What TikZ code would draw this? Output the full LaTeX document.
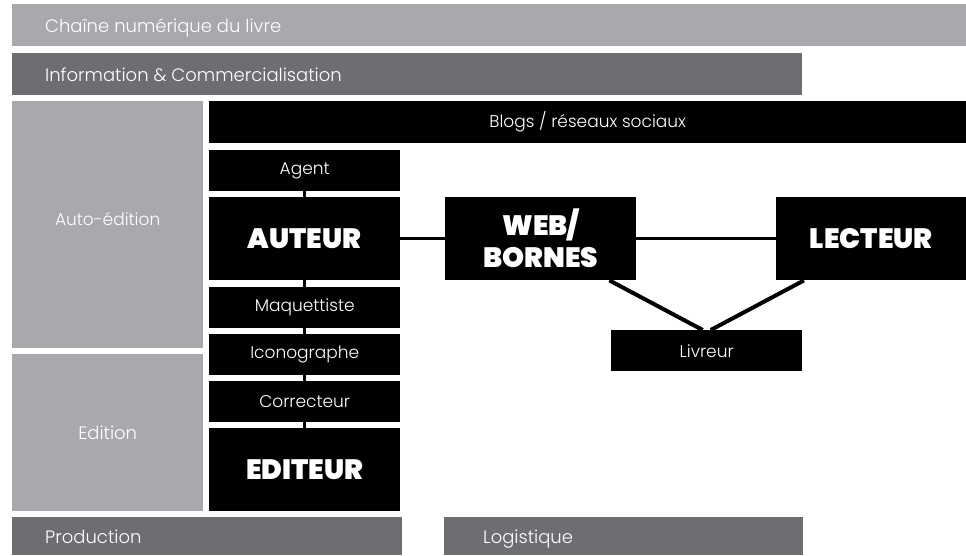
\documentclass[tikz,border=0pt]{standalone}
\usepackage{fontspec}
\setmainfont{Poppins Light}
\newfontfamily\heavyfont{Poppins Black}
\usepackage{tikz}
\usetikzlibrary{calc}
\definecolor{lightgrey}{HTML}{A7A9AC}
\definecolor{darkgrey}{HTML}{6D6E71}

\begin{document}
\begin{tikzpicture}[x=1pt,y=-1pt,
	bar/.style={anchor=north west,inner sep=0pt,minimum height=42pt,text=white,font=\fontsize{18}{20}\selectfont},
	pale/.style={bar,fill=lightgrey},
	dark/.style={bar,fill=darkgrey},
	barlabel/.style={anchor=west,inner sep=0pt,text=white,text height=15pt,text depth=1pt,font=\fontsize{18}{20}\selectfont},
	role/.style={anchor=north west,inner sep=0pt,fill=black,text=white,minimum width=191pt,minimum height=41pt,font=\fontsize{17}{19}\selectfont},
	actor/.style={role,minimum height=83pt,font=\heavyfont\fontsize{28}{32}\selectfont,align=center},
	link/.style={line width=3pt}]
	\useasboundingbox (0,0) rectangle (966,555);
	% bandeaux
	\node[pale,minimum width=954pt] (chaine) at (12,4) {};
	\node[barlabel] (chainetxt) at ($(chaine.west)+(33,0)$) {Chaîne numérique du livre};
	\node[dark,minimum width=790pt] (info) at (12,53) {};
	\node[barlabel] (infotxt) at ($(info.west)+(33,0)$) {Information \& Commercialisation};
	\node[pale,minimum width=191pt,minimum height=247pt] (auto) at (12,101) {};
	\node[text=white,font=\fontsize{17}{19}\selectfont] (autotxt) at ($(auto.center)+(0,-6)$) {Auto-édition};
	\node[pale,minimum width=191pt,minimum height=157pt] (edition) at (12,354) {Edition};
	\node[dark,minimum width=390pt,minimum height=38pt] (prod) at (12,517) {};
	\node[barlabel] (prodtxt) at ($(prod.west)+(33,0)$) {Production};
	\node[dark,minimum width=359pt,minimum height=38pt] (logis) at (444,517) {};
	\node[barlabel] (logistxt) at ($(logis.west)+(39,0)$) {Logistique};
	\node[role,minimum width=757pt,minimum height=42pt] (blogs) at (209,101) {Blogs / réseaux sociaux};
	% acteurs
	\node[role] (agent) at (209,150) {Agent};
	\node[actor] (auteur) at (209,197) {AUTEUR};
	\node[role] (maquette) at (209,287) {Maquettiste};
	\node[role] (icono) at (209,334) {Iconographe};
	\node[role] (correct) at (209,381) {Correcteur};
	\node[actor] (editeur) at (209,428) {EDITEUR};
	\node[actor,minimum width=191pt] (web) at (445,197) {WEB/\\BORNES};
	\node[actor,minimum width=190pt] (lecteur) at (776,197) {LECTEUR};
	\node[role] (livreur) at (611,330) {Livreur};
	% liens
	\draw[link] (agent.south) -- (auteur.north);
	\draw[link] (auteur.south) -- (maquette.north);
	\draw[link] (maquette.south) -- (icono.north);
	\draw[link] (icono.south) -- (correct.north);
	\draw[link] (correct.south) -- (editeur.north);
	\draw[link] (auteur.east) -- (web.west);
	\draw[link] (web.east) -- (lecteur.west);
	\draw[link,line width=4pt] ($(web.south east)+(-27,0)$) -- ($(livreur.north)+(-4,0)$);
	\draw[link,line width=4pt] ($(lecteur.south west)+(28,0)$) -- ($(livreur.north)+(4,0)$);
\end{tikzpicture}
\end{document}
